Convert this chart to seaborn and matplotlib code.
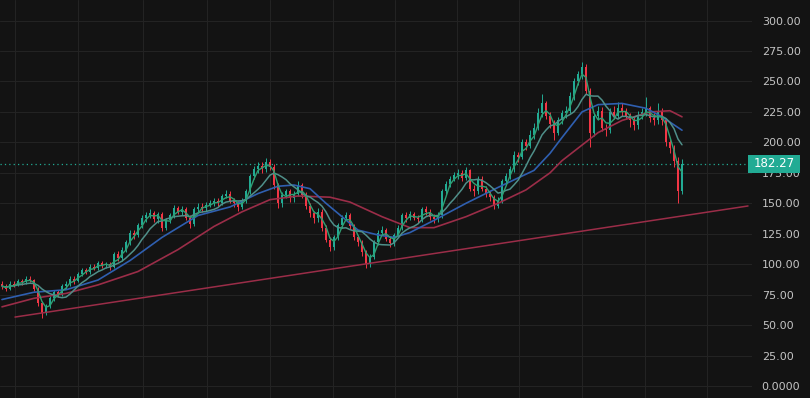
import numpy as np
import pandas as pd
import matplotlib
matplotlib.use("Agg")
import matplotlib.pyplot as plt
import matplotlib.transforms as mtransforms
from matplotlib.patches import Rectangle
import seaborn as sns

# ------------------------
# data
# ------------------------
opens = [
    84, 82, 80, 84, 83, 86, 85, 88, 87, 80,
    68, 60, 66, 72, 77, 75, 82, 84, 88, 86,
    92, 95, 94, 98, 97, 101, 99, 100, 98, 108,
    105, 112, 118, 126, 124, 132, 138, 140, 142, 137,
    141, 130, 136, 140, 146, 143, 145, 138, 133, 145,
    147, 146, 149, 150, 152, 150, 156, 158, 152, 150,
    147, 152, 160, 172, 178, 181, 178, 184, 180, 165,
    150, 157, 160, 154, 158, 165, 157, 148, 142, 138,
    143, 130, 120, 114, 122, 132, 138, 140, 131, 122,
    118, 110, 100, 106, 118, 126, 128, 121, 117, 124,
    130, 140, 138, 141, 138, 137, 145, 143, 139, 137,
    140, 160, 166, 170, 173, 175, 171, 177, 162, 160,
    170, 162, 158, 155, 148, 152, 168, 172, 178, 190,
    188, 200, 197, 206, 212, 224, 232, 222, 215, 208,
    218, 224, 226, 238, 250, 256, 262, 242, 208, 222,
    226, 212, 210, 225, 222, 228, 226, 222, 218, 214,
    222, 225, 228, 220, 218, 226, 218, 200, 195, 185,
    160,
]
highs = [
    86, 84, 86, 86, 88, 88, 90, 90, 88, 81,
    70, 67, 74, 79, 79, 84, 86, 90, 90, 94,
    97, 97, 100, 100, 103, 103, 102, 102, 110, 111,
    114, 120, 128, 128, 134, 140, 143, 145, 144, 143,
    143, 138, 142, 149, 148, 148, 147, 140, 147, 150,
    150, 151, 153, 154, 154, 158, 161, 160, 154, 152,
    154, 162, 174, 181, 184, 184, 187, 186, 182, 167,
    159, 162, 162, 160, 168, 167, 159, 150, 144, 146,
    145, 132, 122, 124, 134, 140, 143, 142, 133, 124,
    120, 112, 108, 120, 128, 131, 130, 123, 126, 132,
    142, 143, 144, 143, 140, 147, 148, 145, 141, 143,
    162, 168, 172, 176, 178, 177, 180, 178, 165, 172,
    172, 164, 160, 157, 155, 170, 175, 181, 193, 192,
    203, 203, 210, 216, 228, 240, 234, 225, 218, 221,
    227, 230, 241, 253, 259, 266, 264, 245, 224, 230,
    229, 215, 228, 230, 233, 232, 228, 224, 221, 226,
    228, 237, 230, 224, 232, 228, 220, 203, 198, 188,
    186,
]
lows = [
    80, 78, 79, 81, 82, 83, 84, 85, 78, 66,
    56, 58, 64, 70, 73, 74, 80, 82, 84, 85,
    90, 92, 92, 95, 95, 97, 97, 95, 97, 103,
    103, 110, 116, 121, 122, 130, 135, 138, 135, 134,
    127, 128, 134, 138, 141, 140, 136, 130, 131, 143,
    143, 144, 147, 148, 148, 149, 154, 150, 147, 144,
    145, 150, 158, 170, 175, 175, 176, 177, 162, 146,
    147, 154, 151, 151, 156, 154, 145, 139, 134, 135,
    127, 118, 111, 112, 120, 130, 136, 129, 120, 115,
    107, 97, 98, 104, 116, 124, 119, 114, 115, 122,
    128, 135, 136, 136, 134, 135, 140, 136, 134, 135,
    138, 157, 163, 168, 170, 168, 169, 160, 156, 158,
    160, 155, 152, 145, 146, 150, 165, 170, 176, 184,
    186, 194, 195, 203, 210, 221, 219, 212, 202, 206,
    215, 220, 224, 235, 247, 252, 240, 196, 205, 218,
    209, 205, 208, 219, 220, 222, 219, 213, 210, 211,
    219, 222, 217, 214, 215, 214, 197, 191, 180, 150,
    158,
]
closes = [
    82, 80, 84, 83, 86, 85, 88, 87, 80, 68,
    60, 66, 72, 77, 75, 82, 84, 88, 86, 92,
    95, 94, 98, 97, 101, 99, 100, 98, 108, 105,
    112, 118, 126, 124, 132, 138, 140, 142, 137, 141,
    130, 136, 140, 146, 143, 145, 138, 133, 145, 147,
    146, 149, 150, 152, 150, 156, 158, 152, 150, 147,
    152, 160, 172, 178, 181, 178, 184, 180, 165, 150,
    157, 160, 154, 158, 165, 157, 148, 142, 138, 143,
    130, 120, 114, 122, 132, 138, 140, 131, 122, 118,
    110, 100, 106, 118, 126, 128, 121, 117, 124, 130,
    140, 138, 141, 138, 137, 145, 143, 139, 137, 140,
    160, 166, 170, 173, 175, 171, 177, 162, 160, 170,
    162, 158, 155, 148, 152, 168, 172, 178, 190, 188,
    200, 197, 206, 212, 224, 232, 222, 215, 208, 218,
    224, 226, 238, 250, 256, 262, 242, 208, 222, 226,
    212, 210, 225, 222, 228, 226, 222, 218, 214, 222,
    225, 228, 220, 218, 226, 218, 200, 195, 185, 160,
    182.27,
]

# slow averages (bar index, price)
blue_idx = [0, 8, 16, 24, 32, 40, 49, 57, 64, 69, 73, 77, 81, 85, 89,
            94, 98, 102, 108, 116, 124, 133, 137, 140, 145, 149, 155, 161, 165, 170]
blue_val = [71, 77, 79, 87, 103, 122, 140, 147, 158, 164, 165, 162, 150, 139, 128,
            124, 122, 126, 136, 150, 163, 177, 191, 204, 225, 231, 232, 228, 221, 210]
red_idx = [0, 8, 16, 24, 34, 44, 53, 60, 67, 74, 82, 87, 95, 102, 108,
           116, 124, 131, 137, 140, 149, 155, 162, 167, 170]
red_val = [65, 72, 76, 83, 94, 112, 131, 143, 153, 156, 155, 151, 139, 130, 130,
           139, 150, 161, 175, 185, 208, 218, 225, 226, 221]

# long trend line
trend_idx = [3.25, 186.5]
trend_val = [56.6, 147.8]

# vertical (time) grid positions, in bar index
time_grid = [3.25, 19, 35.25, 51.25, 67, 82.75, 98.25, 113.75, 129.25, 145, 160.75, 176.25]

price_ticks = list(range(0, 301, 25))
last_price = closes[-1]

# ------------------------
# style
# ------------------------
BG = "#131313"
UP = "#22ab94"
DOWN = "#f23645"

sns.set_theme(style="dark")
plt.rcParams["font.family"] = ["DejaVu Sans"]

fig = plt.figure(figsize=(8.1, 3.98), dpi=100)
fig.patch.set_facecolor(BG)
ax = fig.add_axes([0, 0, 752 / 810, 1])
ax.set_facecolor(BG)

df = pd.DataFrame({"o": opens, "h": highs, "l": lows, "c": closes})
df["i"] = np.arange(len(df))
colors = np.where(df["c"] >= df["o"], UP, DOWN)

# ------------------------
# candles
# ------------------------
ax.vlines(df["i"], df["l"], df["h"], colors=colors, linewidth=0.7, zorder=3)
body = (df["c"] - df["o"]).abs().clip(lower=0.8)
ax.bar(df["i"], body, bottom=df[["o", "c"]].min(axis=1), width=0.62,
       color=colors, linewidth=0, zorder=3)

# ------------------------
# moving averages
# ------------------------
df["ma_fast"] = df["c"].rolling(3, min_periods=1).mean()
df["ma_mid"] = df["c"].rolling(8, min_periods=1).mean()

sns.lineplot(x=red_idx, y=red_val, ax=ax, color="#9b2d48", linewidth=1.2, zorder=4)
sns.lineplot(x=blue_idx, y=blue_val, ax=ax, color="#2f5fb0", linewidth=1.2, zorder=4)
sns.lineplot(data=df, x="i", y="ma_mid", ax=ax, color="#4f8f89", linewidth=1.1, zorder=4)
sns.lineplot(data=df, x="i", y="ma_fast", ax=ax, color="#2f9e72", linewidth=1.0, zorder=4)
sns.lineplot(x=trend_idx, y=trend_val, ax=ax, color="#9b2d48", linewidth=1.1, zorder=4)

# last price line + label
ax.axhline(last_price, color=UP, linestyle=(0, (1, 2.5)), linewidth=0.9, zorder=2)
blend = mtransforms.blended_transform_factory(ax.transAxes, ax.transData)
ax.add_patch(Rectangle((748 / 752, last_price - 7), 52 / 752, 14, transform=blend,
                       facecolor=UP, edgecolor="none", clip_on=False, zorder=6))
ax.text(774 / 752, last_price, f"{last_price:.2f}", transform=blend, ha="center",
        va="center", color="white", fontsize=8.5, clip_on=False, zorder=7)

# ------------------------
# axes
# ------------------------
ax.set_xlim(-0.5, 187.5)
ax.set_ylim(-9.85, 316.9)
ax.set_xticks(time_grid)
ax.set_xticklabels([])
ax.set_yticks(price_ticks)
ax.set_yticklabels(["0.0000"] + [f"{v:.2f}" for v in price_ticks[1:]])
ax.yaxis.tick_right()
ax.tick_params(axis="y", length=0, pad=7, labelsize=8, labelcolor="#c4c4c4")
ax.tick_params(axis="x", length=0)
ax.grid(True, color="#232323", linewidth=0.8)
ax.set_xlabel("")
ax.set_ylabel("")
for s in ax.spines.values():
    s.set_visible(False)

fig.savefig("out.png", dpi=100, facecolor=BG)
